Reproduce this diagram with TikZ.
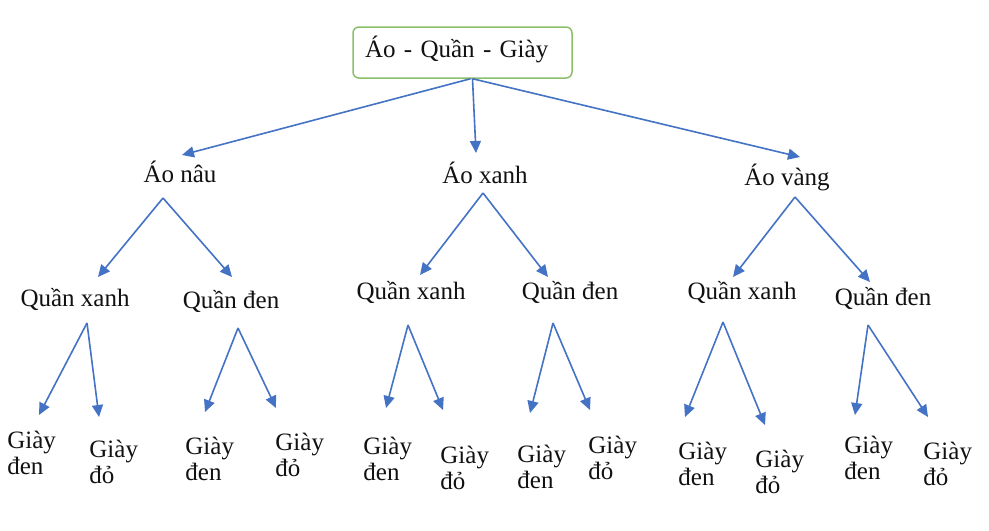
\documentclass[tikz,border=0pt]{standalone}
\usepackage{fontspec}
\setmainfont{Liberation Serif}
\usetikzlibrary{arrows.meta}
\definecolor{trInk}{HTML}{111111}
\definecolor{trBlue}{HTML}{4472C4}
\definecolor{trGreen}{HTML}{8CBF6A}
\tikzset{
  tr root/.style={
    draw=trGreen,
    line width=.75pt,
    rounded corners=3pt,
    text width=97.5pt,
    minimum height=25.5pt,
    inner xsep=6pt,
    inner ysep=0pt,
    align=left,
    text height=8pt,
    text depth=3pt,
    font=\fontsize{12.5}{13}\selectfont,
    text=trInk
  },
  tr label/.style={anchor=base, inner sep=0pt, font=\fontsize{12.5}{13}\selectfont, text=trInk},
  tr leaf/.style={anchor=base west, inner sep=0pt, align=left, font=\fontsize{12.5}{13}\selectfont, text=trInk},
  tr link/.style={
    draw=trBlue,
    line width=.8pt,
    -{Triangle[length=6pt,width=5.5pt]}
  }
}
\begin{document}
\begin{tikzpicture}[x=.5pt,y=-.5pt]
  \useasboundingbox[fill=white] (0,0) rectangle (989,530);

  % top level
  \node[tr root] (root) at (462.5,52.5) {Áo - Quần - Giày};

  % shirts
  \node[tr label] (nau) at (180,182) {Áo nâu};
  \node[tr label] (xanh) at (485,183) {Áo xanh};
  \node[tr label] (vang) at (787,185) {Áo vàng};

  % trousers
  \node[tr label] (nauX) at (75,306) {Quần xanh};
  \node[tr label] (nauD) at (231,308) {Quần đen};
  \node[tr label] (xanhX) at (411,299) {Quần xanh};
  \node[tr label] (xanhD) at (570,299) {Quần đen};
  \node[tr label] (vangX) at (742,299) {Quần xanh};
  \node[tr label] (vangD) at (883,305) {Quần đen};

  % shoes (base = second line)
  \node[tr leaf] (nauXd) at (7,474) {Giày\\đen};
  \node[tr leaf] (nauXr) at (89,483) {Giày\\đỏ};
  \node[tr leaf] (nauDd) at (185,480) {Giày\\đen};
  \node[tr leaf] (nauDr) at (275,476) {Giày\\đỏ};
  \node[tr leaf] (xanhXd) at (363,480) {Giày\\đen};
  \node[tr leaf] (xanhXr) at (440,489) {Giày\\đỏ};
  \node[tr leaf] (xanhDd) at (517,488) {Giày\\đen};
  \node[tr leaf] (xanhDr) at (588,479) {Giày\\đỏ};
  \node[tr leaf] (vangXd) at (678,485) {Giày\\đen};
  \node[tr leaf] (vangXr) at (755,493) {Giày\\đỏ};
  \node[tr leaf] (vangDd) at (844,479) {Giày\\đen};
  \node[tr leaf] (vangDr) at (923,485) {Giày\\đỏ};

  % links
  \draw[tr link] ([xshift=4pt]root.south) -- ([shift={(2,-27)}]nau.base);
  \draw[tr link] ([xshift=5pt]root.south) -- ([shift={(-9,-30)}]xanh.base);
  \draw[tr link] ([xshift=5pt]root.south) -- ([shift={(13,-28)}]vang.base);

  \draw[tr link] ([shift={(-17,16)}]nau.base) -- ([shift={(23,-29)}]nauX.base);
  \draw[tr link] ([shift={(-17,16)}]nau.base) -- ([shift={(1,-31)}]nauD.base);
  \draw[tr link] ([shift={(-2,10)}]xanh.base) -- ([shift={(9,-24)}]xanhX.base);
  \draw[tr link] ([shift={(-2,10)}]xanh.base) -- ([shift={(-22,-22)}]xanhD.base);
  \draw[tr link] ([shift={(8,12)}]vang.base) -- ([shift={(-9,-22)}]vangX.base);
  \draw[tr link] ([shift={(8,12)}]vang.base) -- ([shift={(-13,-23)}]vangD.base);

  \draw[tr link] ([shift={(12,17)}]nauX.base) -- ([shift={(32,-59)}]nauXd.base west);
  \draw[tr link] ([shift={(12,17)}]nauX.base) -- ([shift={(10,-66)}]nauXr.base west);
  \draw[tr link] ([shift={(7,20)}]nauD.base) -- ([shift={(20,-68)}]nauDd.base west);
  \draw[tr link] ([shift={(7,20)}]nauD.base) -- ([shift={(1,-68)}]nauDr.base west);
  \draw[tr link] ([shift={(-3,26)}]xanhX.base) -- ([shift={(23,-72)}]xanhXd.base west);
  \draw[tr link] ([shift={(-3,26)}]xanhX.base) -- ([shift={(3,-79)}]xanhXr.base west);
  \draw[tr link] ([shift={(-17,24)}]xanhD.base) -- ([shift={(13,-75)}]xanhDd.base west);
  \draw[tr link] ([shift={(-17,24)}]xanhD.base) -- ([shift={(2,-69)}]xanhDr.base west);
  \draw[tr link] ([shift={(-19,23)}]vangX.base) -- ([shift={(7,-68)}]vangXd.base west);
  \draw[tr link] ([shift={(-19,23)}]vangX.base) -- ([shift={(10,-68)}]vangXr.base west);
  \draw[tr link] ([shift={(-15,20)}]vangD.base) -- ([shift={(11,-64)}]vangDd.base west);
  \draw[tr link] ([shift={(-15,20)}]vangD.base) -- ([shift={(5,-68)}]vangDr.base west);
\end{tikzpicture}
\end{document}
